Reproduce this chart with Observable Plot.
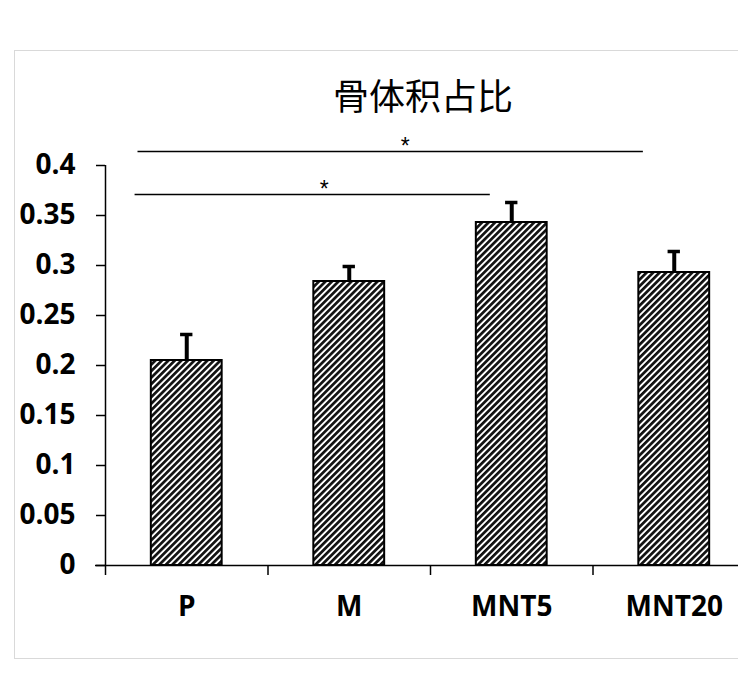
<!DOCTYPE html>
<html><head><meta charset="utf-8">
<script src="https://cdn.jsdelivr.net/npm/d3@7"></script>
<script src="https://cdn.jsdelivr.net/npm/@observablehq/plot@0.6"></script>
<style>
html,body{margin:0;padding:0;background:#fff;overflow:hidden;width:738px;height:690px;}
#wrap{position:relative;width:738px;height:690px;overflow:hidden;}
#frame{position:absolute;left:14px;top:50px;width:800px;height:609px;border:1.5px solid #d9d9d9;box-sizing:border-box;}
#title{position:absolute;left:0;width:846px;top:75px;text-align:center;font-family:"Noto Sans CJK SC";font-size:36px;line-height:38px;color:#000;}
#chart{position:absolute;left:0;top:0;}
</style></head><body>
<div id="wrap"><div id="frame"></div><div id="chart"></div><div id="title">骨体积占比</div></div>
<script>
const categories = ["P", "M", "MNT5", "MNT20"];
const values = [0.205, 0.284, 0.343, 0.293];
const errors = [0.026, 0.015, 0.020, 0.021];
const yTicks = [0, 0.05, 0.1, 0.15, 0.2, 0.25, 0.3, 0.35, 0.4];
const yTickLabels = ["0", "0.05", "0.1", "0.15", "0.2", "0.25", "0.3", "0.35", "0.4"];
const sigFrom = [-0.30, -0.318];
const sigTo = [2.81, 1.868];
const sigLevel = [0.414, 0.371];
const sigStarX = [1.345, 0.846];
const sigLabels = ["*", "*"];

const barHalf = 0.218;
const capHalf = 0.038;
const data = categories.map((c, i) => ({c, i, v: values[i], e: errors[i]}));
const boundaries = categories.map((_, i) => i - 0.5).concat([categories.length - 0.5]);
const font = "'Open Sans', Lato, sans-serif";

const svg = Plot.plot({
  width: 738,
  height: 690,
  marginLeft: 105,
  marginRight: -17,
  marginTop: 165,
  marginBottom: 125,
  style: {background: "transparent", color: "#000", fontFamily: font, overflow: "visible"},
  x: {type: "linear", domain: [-0.5, categories.length - 0.5], range: [105, 755], axis: null, label: null},
  y: {domain: [0, 0.4], range: [565, 165], axis: null, label: null},
  marks: [
    Plot.rectY(data, {x1: d => d.i - barHalf, x2: d => d.i + barHalf, y1: 0, y2: "v", fill: "url(#hatch)", stroke: "#000", strokeWidth: 2}),
    Plot.ruleX(data, {x: "i", y1: "v", y2: d => d.v + d.e, stroke: "#000", strokeWidth: 4}),
    Plot.ruleY(data, {y: d => d.v + d.e, x1: d => d.i - capHalf, x2: d => d.i + capHalf, stroke: "#000", strokeWidth: 3.5}),
    Plot.ruleY([0], {insetLeft: -10, stroke: "#000", strokeWidth: 1.5}),
    Plot.ruleX([-0.5], {y1: 0, y2: 0.4, stroke: "#000", strokeWidth: 1.5}),
    Plot.axisY(yTicks, {anchor: "left", label: null, tickSize: 9, tickPadding: 21, strokeWidth: 1.5,
      tickFormat: d => yTickLabels[yTicks.indexOf(d)], fontSize: 28, fontWeight: "bold", fontFamily: font}),
    Plot.axisX(boundaries, {anchor: "bottom", label: null, tickSize: 10, strokeWidth: 1.5, tickFormat: () => ""}),
    Plot.text(categories, {x: (d, i) => i, y: 0, dy: 42, text: d => d, fontSize: 28, fontWeight: "bold", fontFamily: font}),
    Plot.ruleY(sigLevel, {y: d => d, x1: (d, i) => sigFrom[i], x2: (d, i) => sigTo[i], stroke: "#000", strokeWidth: 1.3}),
    Plot.text(sigLevel, {x: (d, i) => sigStarX[i], y: d => d, text: (d, i) => sigLabels[i], dy: -5, fontSize: 23, fontFamily: "'Liberation Sans', sans-serif"})
  ]
});

d3.select(svg).insert("defs", ":first-child").html(
  '<pattern id="hatch" patternUnits="userSpaceOnUse" width="4.6" height="4.6" patternTransform="rotate(45)">' +
  '<rect width="4.6" height="4.6" fill="#fff"/><rect width="2.7" height="4.6" fill="#111"/></pattern>'
);
document.getElementById("chart").appendChild(svg);
</script>
</body></html>
